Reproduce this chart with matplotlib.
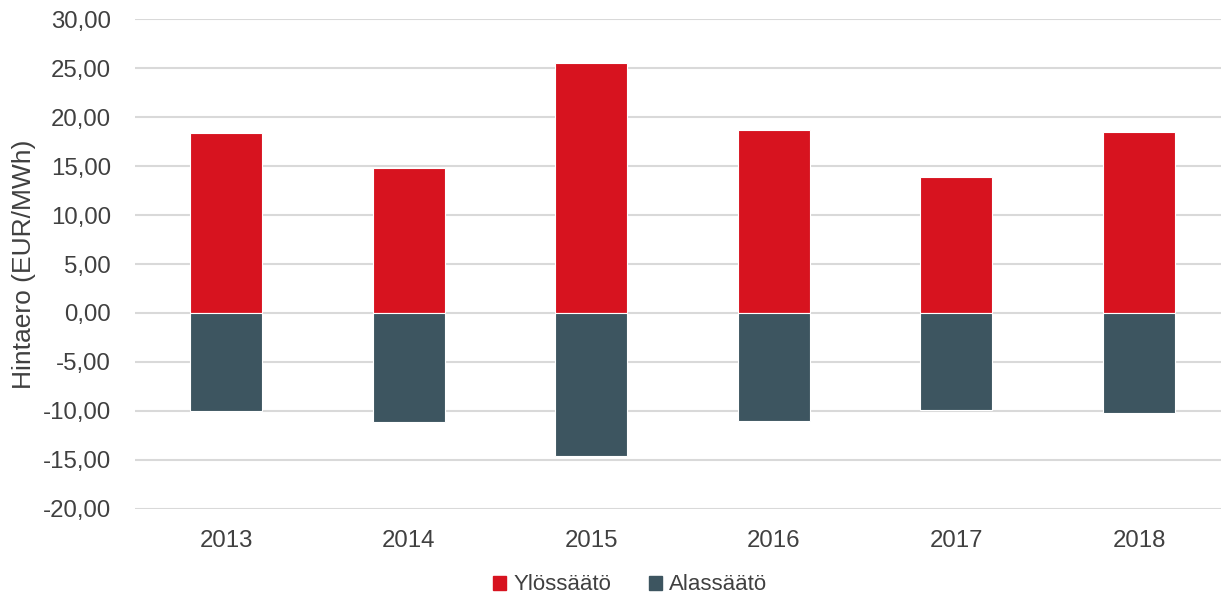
import matplotlib.pyplot as plt
from matplotlib.patches import Patch
from matplotlib.ticker import FuncFormatter

years = ["2013", "2014", "2015", "2016", "2017", "2018"]
ylos = [18.37, 14.8, 25.5, 18.67, 13.88, 18.47]
alas = [-10.0, -11.12, -14.6, -11.0, -9.9, -10.2]

red = "#D7131F"
slate = "#3D5560"

plt.rcParams["font.family"] = ["Liberation Sans", "DejaVu Sans"]

fig = plt.figure(figsize=(12.21, 6), dpi=100)
ax = fig.add_axes([0.1103, 0.1517, 0.8973, 0.8166])

x = range(len(years))
ax.bar(x, ylos, width=0.394, color=red, edgecolor="white", linewidth=0.8, zorder=3)
ax.bar(x, alas, width=0.394, color=slate, edgecolor="white", linewidth=0.8, zorder=3)

ax.set_ylim(-20, 30)
ax.set_yticks(range(-20, 31, 5))
ax.yaxis.set_major_formatter(FuncFormatter(lambda v, p: f"{v:.2f}".replace(".", ",")))
ax.set_xlim(-0.5, len(years) - 0.5)
ax.set_xticks(list(x))
ax.set_xticklabels(years)
ax.grid(axis="y", color="#D9D9D9", linewidth=1.5, zorder=0)
ax.tick_params(axis="both", length=0, labelsize=17.3, labelcolor="#404040")
ax.tick_params(axis="y", pad=17)
ax.tick_params(axis="x", pad=15)
for s in ax.spines.values():
	s.set_visible(False)

ax.set_ylabel("Hintaero (EUR/MWh)", fontsize=19, color="#404040")
ax.yaxis.set_label_coords(-0.090, 0.5)

handles = [Patch(color=red, label="Ylössäätö"), Patch(color=slate, label="Alassäätö")]
fig.legend(handles=handles, loc="center", bbox_to_anchor=(0.516, 0.025), ncol=2, frameon=False,
		   fontsize=16, handlelength=0.6, handleheight=0.6, handletextpad=0.3, columnspacing=1.7,
		   labelcolor="#404040")

fig.savefig("out.png", dpi=100)
